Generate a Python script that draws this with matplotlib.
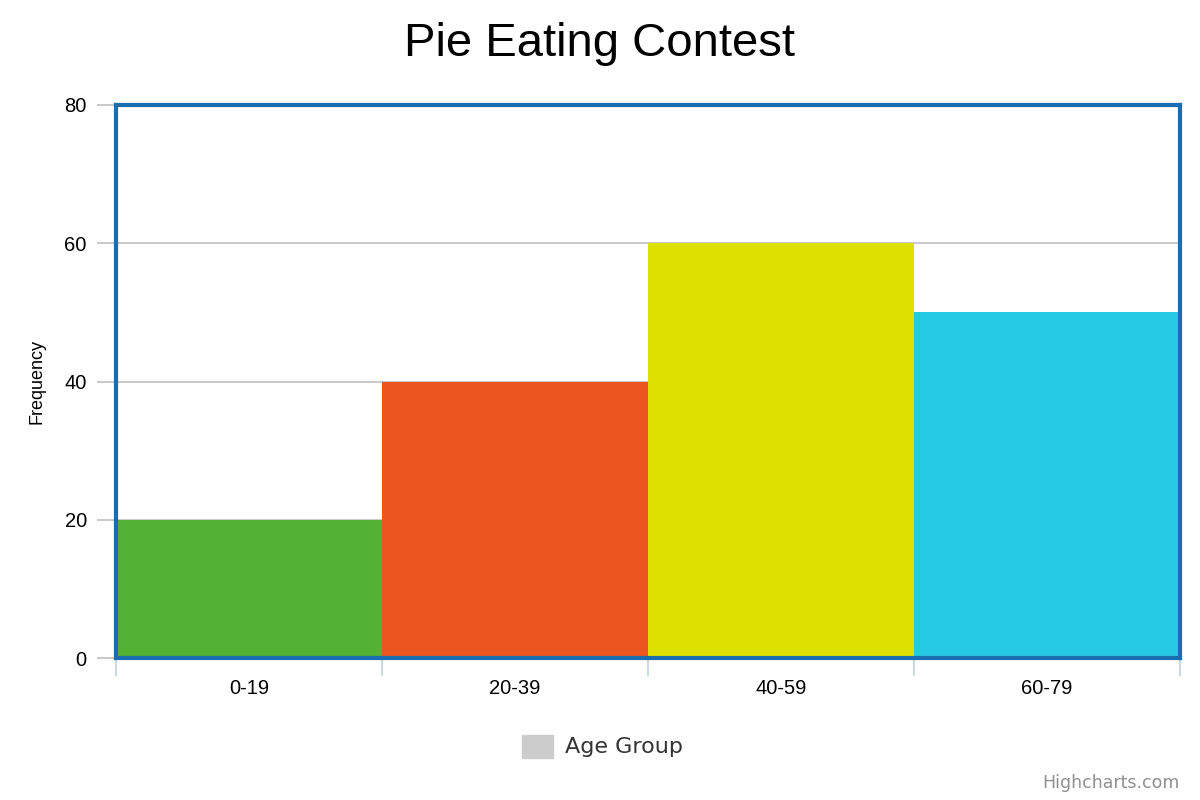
import numpy as np
import matplotlib.pyplot as plt
from matplotlib.patches import Rectangle

# Data
age_groups = ["0-19", "20-39", "40-59", "60-79"]
frequency = [20, 40, 60, 50]
bar_colors = ["#52b234", "#eb561e", "#dde000", "#26c9e3"]
y_ticks = [0, 20, 40, 60, 80]

plt.rcParams["font.family"] = ["Liberation Sans", "DejaVu Sans"]

fig = plt.figure(figsize=(12, 8), dpi=100)
ax = fig.add_axes([116 / 1200, 142 / 800, 1064 / 1200, 553 / 800])

x = np.arange(len(age_groups))
ax.bar(x, frequency, width=1.0, align="edge", color=bar_colors,
       edgecolor="none", zorder=2)

ax.set_xlim(0, len(age_groups))
ax.set_ylim(0, 80)

# Gridlines
ax.set_yticks(y_ticks)
ax.set_yticklabels([str(v) for v in y_ticks], fontsize=14.5)
ax.yaxis.grid(True, color="#c0c0c0", linewidth=1.2, zorder=1)
ax.set_axisbelow(True)
ax.tick_params(axis="y", length=14, width=1.2, color="#c0c0c0", pad=7)

# x ticks at boundaries, labels at centers
ax.set_xticks(np.arange(len(age_groups) + 1))
ax.set_xticklabels([])
ax.set_xticks(x + 0.5, minor=True)
ax.set_xticklabels(age_groups, minor=True, fontsize=14.5)
ax.tick_params(axis="x", which="major", length=13, width=1.2, color="#c0d0e0")
ax.tick_params(axis="x", which="minor", length=0, pad=15)

# Plot border
for s in ax.spines.values():
    s.set_color("#1a6eb0")
    s.set_linewidth(3)
    s.set_zorder(5)

# light x axis line just below
ax.plot([0, 4], [0, 0], color="#c0d0e0", linewidth=1.5, zorder=4,
        clip_on=False)

fig.text(37 / 1200, 1 - 381 / 800, "Frequency", rotation=90, ha="center",
         va="center", fontsize=13)

fig.text(0.5, 1 - 44 / 800, "Pie Eating Contest", ha="center", va="center",
         fontsize=34)

# Legend
fig.patches.append(Rectangle((522 / 1200, 1 - 758 / 800), 31 / 1200, 23 / 800,
                             transform=fig.transFigure, color="#cccccc"))
fig.text(565 / 1200, 1 - 747 / 800, "Age Group", ha="left", va="center",
         fontsize=16, color="#333333", family="DejaVu Sans")

fig.text(1180 / 1200, 1 - 783 / 800, "Highcharts.com", ha="right", va="center",
         fontsize=12.5, color="#909090", family="DejaVu Sans")

fig.savefig("out.png", dpi=100)
